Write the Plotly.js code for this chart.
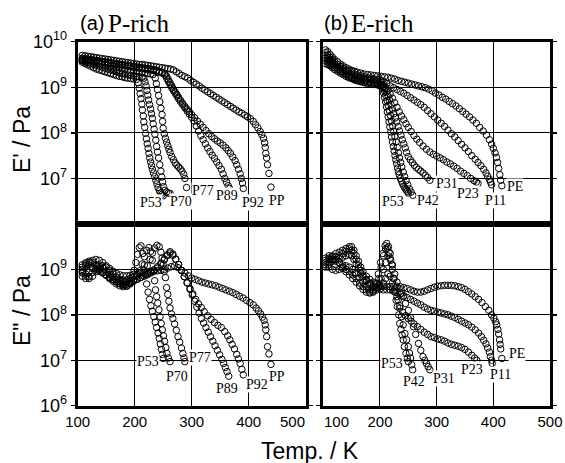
<!DOCTYPE html>
<html>
<head>
<meta charset="utf-8">
<script src="https://cdn.plot.ly/plotly-3.0.1.min.js"></script>
<style>html,body{margin:0;padding:0;background:#fff;}#chart{width:565px;height:463px;}</style>
</head>
<body>
<div id="chart"></div>
<script>
// ---- Data: [Temperature (K), log10(modulus / Pa)] ----
// (a) P-rich, E'
const a_Ep_PP = [[108,9.70],[113,9.69],[118,9.68],[123,9.67],[128,9.66],[133,9.65],[138,9.64],[143,9.63],[148,9.62],[153,9.61],[158,9.60],[163,9.59],[168,9.58],[173,9.57],[178,9.56],[183,9.55],[188,9.54],[193,9.53],[198,9.52],[203,9.51],[208,9.50],[213,9.50],[218,9.49],[223,9.48],[228,9.47],[233,9.46],[238,9.45],[243,9.44],[248,9.43],[253,9.42],[258,9.41],[263,9.40],[268,9.38],[273,9.34],[278,9.30],[283,9.26],[288,9.23],[293,9.20],[298,9.15],[303,9.11],[308,9.07],[313,9.03],[318,8.98],[323,8.94],[328,8.90],[333,8.86],[338,8.82],[343,8.78],[348,8.74],[353,8.70],[358,8.66],[363,8.62],[368,8.58],[373,8.54],[378,8.50],[383,8.46],[388,8.43],[393,8.39],[398,8.35],[403,8.31],[408,8.25],[412,8.18],[416,8.11],[420,8.03],[423,7.96],[426,7.88],[428,7.78],[429,7.68],[430,7.55],[431.5,7.45],[433,7.30],[435.5,7.11],[439,6.81]];
const a_Ep_P92 = [[108,9.64],[113,9.63],[118,9.62],[123,9.61],[128,9.60],[133,9.59],[138,9.58],[143,9.57],[148,9.56],[153,9.55],[158,9.54],[163,9.53],[168,9.52],[173,9.51],[178,9.50],[183,9.49],[188,9.48],[193,9.47],[198,9.46],[203,9.45],[208,9.44],[213,9.43],[218,9.42],[223,9.41],[228,9.40],[233,9.39],[238,9.37],[243,9.35],[248,9.33],[253,9.30],[256,9.24],[259,9.17],[262,9.10],[265,9.03],[268,8.96],[271,8.90],[274,8.84],[277,8.78],[280,8.72],[284,8.65],[288,8.58],[292,8.52],[296,8.46],[300,8.40],[305,8.33],[310,8.26],[315,8.19],[320,8.12],[325,8.05],[330,7.98],[335,7.92],[340,7.87],[345,7.82],[350,7.78],[355,7.73],[360,7.67],[364,7.61],[368,7.55],[372,7.47],[376,7.39],[379,7.30],[382,7.20],[385,7.10],[387,7.00],[389,6.90],[390.5,6.78]];
const a_Ep_P89 = [[108,9.62],[113,9.61],[118,9.60],[123,9.59],[128,9.58],[133,9.57],[138,9.56],[143,9.55],[148,9.54],[153,9.53],[158,9.52],[163,9.51],[168,9.50],[173,9.49],[178,9.48],[183,9.47],[188,9.46],[193,9.45],[198,9.44],[203,9.43],[208,9.42],[213,9.41],[218,9.40],[223,9.39],[228,9.38],[233,9.37],[238,9.35],[243,9.33],[248,9.31],[253,9.27],[256,9.20],[259,9.13],[262,9.06],[265,8.99],[268,8.93],[271,8.87],[274,8.81],[277,8.75],[280,8.69],[284,8.62],[288,8.55],[292,8.48],[296,8.41],[300,8.34],[304,8.26],[308,8.15],[312,8.04],[316,7.94],[320,7.85],[324,7.76],[328,7.67],[332,7.59],[336,7.51],[340,7.44],[344,7.36],[348,7.28],[352,7.20],[355,7.10],[358,7.00],[361,6.92],[364,6.84],[366.5,6.78]];
const a_Ep_P77 = [[108,9.60],[113,9.59],[118,9.58],[123,9.57],[128,9.55],[133,9.54],[138,9.52],[143,9.51],[148,9.49],[153,9.48],[158,9.46],[163,9.45],[168,9.43],[173,9.42],[178,9.40],[183,9.39],[188,9.37],[193,9.36],[198,9.35],[203,9.34],[208,9.33],[213,9.32],[218,9.31],[223,9.30],[228,9.29],[232,9.28],[236,9.20],[238,9.08],[240,8.95],[242,8.82],[244,8.68],[246,8.54],[248,8.40],[249,8.25],[250,8.10],[252,7.98],[254,7.88],[256,7.80],[258,7.72],[260,7.64],[262,7.57],[265,7.48],[268,7.41],[271,7.34],[274,7.29],[277,7.25],[280,7.21],[283,7.16],[286,7.09],[288,7.00],[291,6.80]];
const a_Ep_P70 = [[108,9.58],[113,9.56],[118,9.54],[123,9.52],[128,9.50],[133,9.48],[138,9.46],[143,9.44],[148,9.42],[153,9.40],[158,9.38],[163,9.36],[168,9.34],[173,9.32],[178,9.30],[183,9.29],[188,9.27],[193,9.26],[198,9.25],[203,9.24],[208,9.23],[213,9.22],[216,9.20],[218,9.12],[220,9.03],[221.5,8.93],[223,8.83],[224.5,8.72],[226,8.62],[228,8.52],[229.5,8.42],[231,8.32],[232.5,8.20],[234,8.08],[235.5,7.97],[237,7.84],[238.5,7.70],[240,7.58],[242,7.45],[244,7.30],[246,7.16],[247.5,7.03],[249,6.92],[250.5,6.82],[253,6.74],[256,6.70],[259,6.68],[262,6.67]];
const a_Ep_P53 = [[108,9.55],[113,9.52],[118,9.49],[123,9.46],[128,9.43],[133,9.40],[138,9.38],[143,9.36],[148,9.34],[153,9.32],[158,9.30],[163,9.28],[168,9.26],[173,9.24],[178,9.23],[183,9.21],[188,9.20],[193,9.19],[198,9.18],[203,9.17],[206,9.10],[208,8.98],[209.5,8.86],[211,8.75],[212.5,8.63],[213.5,8.50],[215,8.37],[216,8.24],[217.5,8.12],[219,7.99],[220.5,7.87],[222,7.76],[223.5,7.66],[225,7.55],[226.5,7.45],[228,7.36],[229.5,7.28],[231,7.20],[233,7.12],[235,7.04],[237,6.96],[239,6.88],[241,6.80],[243.5,6.73],[246,6.68],[248,6.65],[250,6.62]];

// (a) P-rich, E''
const a_Epp_PP = [[108,9.00],[114,9.08],[120,9.15],[126,9.20],[132,9.22],[138,9.20],[144,9.15],[150,9.08],[156,9.02],[162,8.96],[168,8.91],[174,8.88],[180,8.86],[186,8.86],[192,8.87],[198,8.89],[204,8.90],[210,8.92],[216,8.93],[222,8.94],[228,8.95],[234,8.96],[240,8.97],[246,8.98],[252,9.00],[258,9.03],[264,9.06],[270,9.08],[276,9.04],[282,8.98],[288,8.92],[294,8.86],[300,8.81],[306,8.78],[312,8.75],[318,8.72],[324,8.70],[330,8.68],[336,8.66],[342,8.64],[348,8.61],[354,8.58],[360,8.55],[366,8.52],[372,8.49],[378,8.45],[384,8.41],[390,8.37],[396,8.32],[402,8.27],[408,8.22],[413,8.15],[417,8.09],[421,8.02],[424,7.95],[427,7.88],[429,7.78],[430,7.67],[431.5,7.52],[433,7.30],[435.5,7.14],[439,6.91]];
const a_Epp_P92 = [[108,8.95],[114,8.90],[120,8.94],[126,9.02],[132,9.10],[138,9.10],[144,9.03],[150,8.96],[156,8.89],[162,8.83],[168,8.77],[174,8.73],[180,8.71],[186,8.71],[192,8.73],[198,8.76],[204,8.79],[210,8.82],[216,8.85],[222,8.88],[228,8.92],[234,8.97],[240,9.03],[246,9.11],[252,9.21],[257,9.30],[262,9.36],[267,9.31],[272,9.22],[277,9.11],[282,8.98],[287,8.84],[292,8.71],[297,8.58],[302,8.46],[307,8.34],[312,8.24],[317,8.16],[322,8.07],[328,7.98],[334,7.90],[340,7.83],[346,7.77],[352,7.72],[358,7.63],[363,7.54],[367,7.45],[371,7.35],[375,7.25],[379,7.13],[382,7.03],[385,6.93],[388,6.80],[390.5,6.68]];
const a_Epp_P89 = [[108,9.05],[114,9.12],[120,9.10],[126,9.05],[132,9.00],[138,8.96],[144,8.92],[150,8.88],[156,8.83],[162,8.78],[168,8.73],[174,8.69],[180,8.67],[186,8.67],[192,8.70],[198,8.74],[204,8.78],[210,8.82],[216,8.86],[222,8.90],[228,8.94],[234,8.99],[240,9.06],[246,9.14],[252,9.23],[257,9.32],[262,9.39],[267,9.34],[272,9.23],[277,9.11],[282,8.98],[287,8.84],[292,8.70],[297,8.56],[301,8.44],[305,8.30],[309,8.17],[313,8.04],[317,7.92],[321,7.82],[325,7.72],[329,7.62],[333,7.52],[337,7.42],[341,7.32],[345,7.22],[349,7.12],[353,7.02],[356,6.93],[359,6.84],[362,6.75],[365,6.65]];
const a_Epp_P77 = [[108,8.92],[114,8.85],[120,8.80],[126,8.85],[132,8.95],[138,9.04],[144,9.08],[150,9.05],[156,8.98],[162,8.90],[168,8.83],[174,8.78],[180,8.76],[186,8.77],[192,8.80],[198,8.84],[204,8.88],[210,8.93],[216,8.99],[222,9.08],[227,9.22],[231,9.36],[235,9.47],[239,9.53],[243,9.50],[246,9.38],[248,9.25],[250,9.10],[252,8.96],[254,8.82],[256,8.60],[258,8.45],[260,8.30],[262,8.15],[264.5,8.02],[267,7.92],[270,7.80],[273,7.66],[276,7.52],[279,7.40],[282,7.27],[284.5,7.15],[286.5,7.05],[288,6.97]];
const a_Epp_P70 = [[108,8.85],[114,8.80],[120,8.84],[126,8.93],[132,9.02],[138,9.00],[144,8.94],[150,8.88],[156,8.82],[162,8.77],[168,8.72],[174,8.68],[180,8.65],[186,8.64],[192,8.68],[198,8.75],[204,8.85],[209,8.97],[213,9.12],[217,9.28],[221,9.42],[225,9.48],[228,9.40],[231,9.20],[233,8.98],[235,8.75],[236.5,8.55],[238.5,8.40],[240.5,8.26],[242.5,8.11],[244.5,7.96],[246.5,7.81],[248.5,7.67],[250.5,7.54],[252.5,7.42],[254.5,7.28],[256.5,7.15],[259,7.05],[262,6.97]];
const a_Epp_P53 = [[108,9.10],[114,9.15],[120,9.18],[126,9.15],[132,9.08],[138,9.00],[144,8.93],[150,8.87],[156,8.80],[162,8.74],[168,8.68],[174,8.64],[180,8.62],[186,8.63],[191,8.70],[195,8.82],[199,8.98],[202,9.15],[205,9.33],[208,9.48],[211,9.52],[214,9.35],[217,9.10],[219,8.88],[221,8.68],[223.5,8.50],[226,8.34],[228.5,8.20],[231,8.08],[233.5,7.96],[236,7.84],[238.5,7.72],[241,7.60],[243,7.48],[245,7.36],[247,7.24],[248.5,7.13],[250,7.04]];

// (b) E-rich, E'
const b_Ep_PE = [[104,9.82],[108,9.78],[112,9.72],[116,9.66],[120,9.61],[125,9.56],[130,9.51],[135,9.47],[140,9.43],[145,9.40],[150,9.37],[155,9.35],[160,9.33],[166,9.31],[172,9.29],[178,9.28],[184,9.27],[190,9.26],[196,9.25],[202,9.24],[208,9.23],[214,9.22],[220,9.20],[226,9.18],[232,9.15],[238,9.13],[244,9.11],[250,9.09],[256,9.07],[262,9.05],[268,9.03],[274,9.01],[280,8.99],[286,8.96],[292,8.92],[298,8.87],[304,8.83],[310,8.78],[316,8.74],[322,8.69],[328,8.64],[334,8.59],[340,8.53],[346,8.47],[352,8.41],[358,8.35],[364,8.28],[370,8.21],[376,8.12],[382,8.04],[388,7.95],[393,7.85],[397,7.75],[400,7.66],[403,7.56],[405.5,7.46],[407.5,7.35],[409.5,7.22],[411.5,7.08],[413,6.96],[415,6.84]];
const b_Ep_P11 = [[104,9.76],[108,9.71],[112,9.66],[116,9.60],[120,9.55],[125,9.50],[130,9.46],[135,9.42],[140,9.38],[145,9.35],[150,9.32],[155,9.29],[160,9.27],[166,9.25],[172,9.23],[178,9.21],[184,9.20],[190,9.18],[196,9.17],[202,9.15],[207,9.12],[212,9.08],[218,9.03],[224,8.99],[230,8.95],[236,8.91],[242,8.87],[248,8.82],[254,8.77],[260,8.72],[266,8.67],[272,8.62],[278,8.56],[284,8.49],[290,8.42],[296,8.35],[302,8.28],[308,8.21],[314,8.14],[320,8.06],[326,7.98],[332,7.91],[338,7.83],[344,7.75],[350,7.67],[356,7.59],[362,7.50],[368,7.42],[373,7.35],[378,7.28],[383,7.20],[387,7.12],[390,7.05],[393,6.98],[395,6.92],[397,6.86]];
const b_Ep_P23 = [[104,9.70],[108,9.66],[112,9.61],[116,9.56],[120,9.51],[125,9.46],[130,9.42],[135,9.38],[140,9.34],[145,9.31],[150,9.28],[155,9.25],[160,9.23],[166,9.21],[172,9.19],[178,9.17],[184,9.16],[190,9.14],[196,9.12],[202,9.10],[206,9.06],[210,9.00],[214,8.93],[218,8.85],[222,8.76],[226,8.66],[230,8.56],[234,8.46],[238,8.37],[242,8.29],[246,8.20],[250,8.12],[255,8.03],[260,7.94],[265,7.86],[270,7.79],[276,7.71],[282,7.64],[288,7.58],[294,7.53],[300,7.49],[306,7.45],[312,7.41],[318,7.36],[324,7.32],[330,7.27],[336,7.22],[342,7.16],[348,7.11],[354,7.06],[360,7.00],[366,6.95],[370,6.92],[373,6.89]];
const b_Ep_P31 = [[104,9.64],[108,9.60],[112,9.56],[116,9.51],[120,9.47],[125,9.42],[130,9.38],[135,9.34],[140,9.30],[145,9.27],[150,9.24],[155,9.21],[160,9.19],[166,9.16],[172,9.14],[178,9.12],[184,9.11],[190,9.10],[196,9.08],[202,9.06],[206,9.02],[209,8.97],[212,8.90],[214.5,8.80],[217,8.72],[219.5,8.62],[222,8.52],[224.5,8.42],[227,8.33],[229.5,8.24],[232,8.14],[234.5,8.04],[237,7.95],[239.5,7.85],[242,7.76],[244.5,7.67],[247,7.57],[250,7.48],[253.5,7.41],[257,7.35],[260.5,7.29],[264,7.24],[268,7.20],[272,7.16],[276,7.12],[280,7.07],[284,7.02],[288,6.96]];
const b_Ep_P42 = [[104,9.58],[108,9.55],[112,9.51],[116,9.47],[120,9.43],[125,9.39],[130,9.35],[135,9.31],[140,9.27],[145,9.24],[150,9.21],[155,9.18],[160,9.16],[166,9.13],[172,9.11],[178,9.09],[184,9.08],[190,9.07],[196,9.06],[202,9.04],[205,9.00],[208,8.92],[210.5,8.82],[212.5,8.71],[214.5,8.60],[216.5,8.49],[218.5,8.38],[220.5,8.26],[222.5,8.15],[224.5,8.03],[226.5,7.92],[228.5,7.80],[230.5,7.68],[232.5,7.56],[234.5,7.45],[236.5,7.35],[238.5,7.25],[241,7.14],[243.5,7.04],[246,6.95],[249,6.86],[252,6.77],[255,6.70],[258,6.63]];
const b_Ep_P53 = [[104,9.52],[108,9.50],[112,9.47],[116,9.43],[120,9.39],[125,9.35],[130,9.31],[135,9.28],[140,9.24],[145,9.21],[150,9.19],[155,9.16],[160,9.14],[166,9.12],[172,9.10],[178,9.08],[184,9.07],[190,9.06],[196,9.05],[201,9.03],[204,8.97],[206,8.88],[208,8.78],[210,8.68],[211.5,8.57],[213,8.46],[214.5,8.35],[216,8.24],[217.5,8.13],[219,8.02],[220.5,7.91],[222,7.80],[223.5,7.70],[225,7.60],[226.5,7.50],[228,7.41],[229.5,7.32],[231,7.23],[232.5,7.15],[234,7.08],[236,7.00],[238,6.94],[240,6.88],[242,6.83],[244,6.79],[246,6.75],[248,6.72],[250,6.68]];

// (b) E-rich, E''
const b_Epp_PE = [[104,9.15],[110,9.22],[116,9.30],[122,9.35],[128,9.38],[134,9.42],[140,9.46],[146,9.50],[150,9.50],[154,9.42],[158,9.30],[162,9.18],[166,9.05],[170,8.95],[176,8.85],[182,8.78],[188,8.72],[194,8.68],[200,8.65],[206,8.63],[212,8.62],[218,8.62],[224,8.63],[230,8.63],[236,8.62],[242,8.60],[248,8.58],[254,8.55],[260,8.52],[266,8.50],[272,8.50],[278,8.52],[284,8.55],[290,8.58],[296,8.61],[302,8.63],[308,8.64],[314,8.65],[320,8.65],[326,8.65],[332,8.64],[338,8.62],[344,8.60],[350,8.56],[356,8.51],[362,8.46],[368,8.40],[374,8.34],[380,8.27],[386,8.18],[392,8.10],[397,8.00],[401,7.93],[404,7.85],[406,7.78],[408,7.68],[409.5,7.58],[411,7.45],[412,7.35],[413,7.25],[415,7.04]];
const b_Epp_P11 = [[104,9.10],[110,9.15],[116,9.22],[122,9.28],[128,9.30],[134,9.35],[140,9.40],[146,9.45],[150,9.42],[154,9.35],[158,9.22],[162,9.10],[166,8.98],[170,8.88],[176,8.78],[182,8.70],[188,8.64],[194,8.60],[200,8.57],[206,8.55],[212,8.55],[218,8.55],[224,8.52],[230,8.49],[236,8.46],[242,8.42],[248,8.38],[254,8.34],[260,8.30],[266,8.26],[272,8.22],[278,8.17],[284,8.13],[290,8.10],[296,8.08],[302,8.06],[308,8.04],[314,8.02],[320,8.00],[326,7.97],[332,7.94],[338,7.90],[344,7.86],[350,7.82],[356,7.78],[362,7.73],[368,7.67],[374,7.60],[379,7.52],[383,7.44],[387,7.36],[390,7.27],[393,7.18],[395,7.08],[397,7.00],[398,6.93]];
const b_Epp_P23 = [[104,9.05],[110,9.10],[116,9.18],[122,9.22],[128,9.24],[134,9.27],[140,9.30],[146,9.33],[150,9.30],[154,9.22],[158,9.12],[162,9.02],[166,8.92],[170,8.84],[176,8.75],[182,8.68],[188,8.62],[194,8.60],[200,8.62],[206,8.70],[210,8.80],[214,8.90],[218,8.85],[222,8.70],[226,8.55],[230,8.40],[235,8.20],[240,8.06],[245,7.98],[250,7.92],[255,7.86],[260,7.80],[266,7.74],[272,7.68],[278,7.62],[284,7.57],[290,7.52],[296,7.50],[302,7.47],[308,7.45],[314,7.42],[320,7.38],[326,7.35],[332,7.33],[338,7.31],[344,7.28],[350,7.24],[356,7.18],[362,7.11],[367,7.05],[371,7.00]];
const b_Epp_P31 = [[104,9.20],[110,9.25],[116,9.22],[122,9.18],[128,9.15],[134,9.10],[140,9.08],[146,9.05],[152,9.00],[158,8.92],[164,8.82],[170,8.72],[176,8.62],[182,8.56],[188,8.52],[194,8.55],[198,8.65],[202,8.80],[206,9.00],[210,9.15],[214,9.30],[218,9.25],[222,9.10],[226,8.90],[230,8.72],[234,8.58],[238,8.48],[241,8.40],[245,8.25],[250,8.10],[254,7.94],[259,7.74],[263,7.57],[268,7.37],[272,7.22],[276,7.08],[279,7.00],[282,6.93],[285,6.86],[288,6.79]];
const b_Epp_P42 = [[104,9.10],[110,9.05],[116,9.00],[122,8.98],[128,9.00],[134,9.02],[140,9.00],[146,8.95],[152,8.88],[158,8.80],[164,8.70],[170,8.62],[176,8.55],[182,8.50],[188,8.50],[194,8.60],[198,8.80],[202,9.05],[206,9.30],[210,9.45],[213,9.47],[216,9.38],[219,9.20],[222,9.00],[225,8.80],[228,8.60],[232,8.33],[235,8.15],[238,7.96],[241,7.78],[244,7.59],[247,7.45],[250,7.30],[252,7.16],[254,7.05],[256,6.90],[257.7,6.79]];
const b_Epp_P53 = [[104,9.25],[110,9.30],[116,9.28],[122,9.22],[128,9.15],[134,9.05],[140,8.95],[146,8.88],[152,8.80],[158,8.72],[164,8.64],[170,8.56],[176,8.50],[182,8.48],[188,8.55],[193,8.70],[197,8.90],[201,9.15],[205,9.35],[209,9.52],[212,9.57],[215,9.50],[218,9.35],[221,9.10],[224,8.80],[226.5,8.50],[228.5,8.32],[230.5,8.18],[233,8.00],[235,7.81],[237,7.68],[239,7.56],[241,7.45],[243,7.30],[245.8,7.15],[248,7.05],[250,6.97]];

// Curve labels: [text, T, log10 position]
const labels_a_Ep = [["P53",228,6.48],["P70",281,6.50],["P77",320,6.74],["P89",362,6.63],["P92",407,6.48],["PP",450,6.52]];
const labels_a_Epp = [["P53",224,6.97],["P70",274,6.64],["P77",315,7.07],["P89",362,6.38],["P92",414,6.46],["PP",450,6.64]];
const labels_b_Ep = [["P53",223,6.49],["P42",284,6.52],["P31",318,6.89],["P23",355,6.67],["P11",403,6.52],["PE",438,6.82]];
const labels_b_Epp = [["P53",222,6.93],["P42",260,6.53],["P31",313,6.60],["P23",363,6.79],["P11",413,6.68],["PE",441,7.14]];

// Axis ticks (the panel edges 100/500 K and 10^6/10^10 Pa coincide with the frames)
const xTicksLeft = [100,200,300,400];
const xTicksRight = [200,300,400,500];
const yTicksTop = [1e7,1e8,1e9,1e10];
const yTextTop = ["10<sup>7</sup>","10<sup>8</sup>","10<sup>9</sup>","10<sup>10</sup>"];
const yTicksBot = [1e6,1e7,1e8,1e9];
const yTextBot = ["10<sup>6</sup>","10<sup>7</sup>","10<sup>8</sup>","10<sup>9</sup>"];

// ---- Build ----
const SANS = "Liberation Sans, Arial, sans-serif";
const SERIF = "Liberation Serif, Times New Roman, serif";
const marker = {symbol:"circle-open", size:6.5, color:"#000", line:{width:1, color:"#000"}};
function tr(data, xa, ya){
  return {type:"scatter", mode:"markers", x:data.map(p=>p[0]), y:data.map(p=>Math.pow(10,p[1])),
          xaxis:xa, yaxis:ya, marker:marker, hoverinfo:"skip", showlegend:false, cliponaxis:true};
}
const traces = [];
[a_Ep_P53,a_Ep_P70,a_Ep_P77,a_Ep_P89,a_Ep_P92,a_Ep_PP].forEach(d=>traces.push(tr(d,"x3","y3")));
[a_Epp_P53,a_Epp_P70,a_Epp_P77,a_Epp_P89,a_Epp_P92,a_Epp_PP].forEach(d=>traces.push(tr(d,"x","y")));
[b_Ep_P53,b_Ep_P42,b_Ep_P31,b_Ep_P23,b_Ep_P11,b_Ep_PE].forEach(d=>traces.push(tr(d,"x4","y4")));
[b_Epp_P53,b_Epp_P42,b_Epp_P31,b_Epp_P23,b_Epp_P11,b_Epp_PE].forEach(d=>traces.push(tr(d,"x2","y2")));

const W=565, H=463;
const xL=[77.7/W, 305.7/W], xR=[323.3/W, 550/W];
const yT=[1-224/H, 1-41.7/H], yB=[1-405.7/H, 1-224/H];
const TICKFONT = {family:SANS, size:15, color:"#000"};

function xax(dom, anchor, labels, vals){
  return {domain:dom, anchor:anchor, range:[100,500], tickvals:vals, showgrid:true, gridcolor:"#000", gridwidth:1,
    showline:true, linecolor:"#000", linewidth:3, mirror:true, ticks:"", zeroline:false,
    showticklabels:labels, tickfont:TICKFONT, fixedrange:true};
}
function yax(dom, anchor, vals, text, labels){
  return {domain:dom, anchor:anchor, type:"log", range:[6,10], tickvals:vals, ticktext:text,
    showgrid:true, gridcolor:"#000", gridwidth:1, showline:true, linecolor:"#000", linewidth:3, mirror:"ticks",
    ticks:"outside", ticklen:4, tickwidth:1.5, tickcolor:"#000", zeroline:false,
    showticklabels:labels, tickfont:{family:SANS, size:18, color:"#000"}, fixedrange:true};
}

const annotations = [];
function addLabels(list, xr, yr){
  list.forEach(l=>annotations.push({text:l[0], x:l[1], y:l[2], xref:xr, yref:yr, showarrow:false,
    font:{family:SERIF, size:14, color:"#000"}, bgcolor:"#fff", borderpad:0, xanchor:"center", yanchor:"middle"}));
}
addLabels(labels_a_Ep,"x3","y3");
addLabels(labels_a_Epp,"x","y");
addLabels(labels_b_Ep,"x4","y4");
addLabels(labels_b_Epp,"x2","y2");

// edge tick labels where the two panels meet (offset so they do not collide, as in the reference)
annotations.push({text:"500", xref:"x", yref:"paper", x:500, y:1-421/H, xanchor:"right", yanchor:"middle", xshift:1, showarrow:false, font:TICKFONT});
annotations.push({text:"100", xref:"x2", yref:"paper", x:100, y:1-421/H, xanchor:"left", yanchor:"middle", xshift:-1, showarrow:false, font:TICKFONT});

annotations.push({text:"(a)", xref:"paper", yref:"paper", x:78/W, y:1-23/H, xanchor:"left", yanchor:"middle", showarrow:false, font:{family:SANS, size:20, color:"#000"}});
annotations.push({text:"P-rich", xref:"paper", yref:"paper", x:106/W, y:1-24/H, xanchor:"left", yanchor:"middle", showarrow:false, font:{family:SERIF, size:25, color:"#000"}});
annotations.push({text:"(b)", xref:"paper", yref:"paper", x:322/W, y:1-23/H, xanchor:"left", yanchor:"middle", showarrow:false, font:{family:SANS, size:20, color:"#000"}});
annotations.push({text:"E-rich", xref:"paper", yref:"paper", x:349/W, y:1-24/H, xanchor:"left", yanchor:"middle", showarrow:false, font:{family:SERIF, size:25, color:"#000"}});
annotations.push({text:"E' / Pa", xref:"paper", yref:"paper", x:22/W, y:1-140/H, xanchor:"center", yanchor:"middle", textangle:-90, showarrow:false, font:{family:SANS, size:23, color:"#000"}});
annotations.push({text:"E\" / Pa", xref:"paper", yref:"paper", x:22/W, y:1-311/H, xanchor:"center", yanchor:"middle", textangle:-90, showarrow:false, font:{family:SANS, size:23, color:"#000"}});
annotations.push({text:"Temp. / K", xref:"paper", yref:"paper", x:310/W, y:1-451/H, xanchor:"center", yanchor:"middle", showarrow:false, font:{family:SANS, size:23, color:"#000"}});

const layout = {
  width:W, height:H, margin:{l:0,r:0,t:0,b:0}, paper_bgcolor:"#fff", plot_bgcolor:"#fff", showlegend:false,
  xaxis:xax(xL,"y",true,xTicksLeft), yaxis:yax(yB,"x",yTicksBot,yTextBot,true),
  xaxis2:xax(xR,"y2",true,xTicksRight), yaxis2:yax(yB,"x2",yTicksBot,yTextBot,false),
  xaxis3:xax(xL,"y3",false,xTicksLeft), yaxis3:yax(yT,"x3",yTicksTop,yTextTop,true),
  xaxis4:xax(xR,"y4",false,xTicksRight), yaxis4:yax(yT,"x4",yTicksTop,yTextTop,false),
  annotations:annotations
};
Plotly.newPlot("chart", traces, layout, {staticPlot:true, displayModeBar:false});
</script>
</body>
</html>
